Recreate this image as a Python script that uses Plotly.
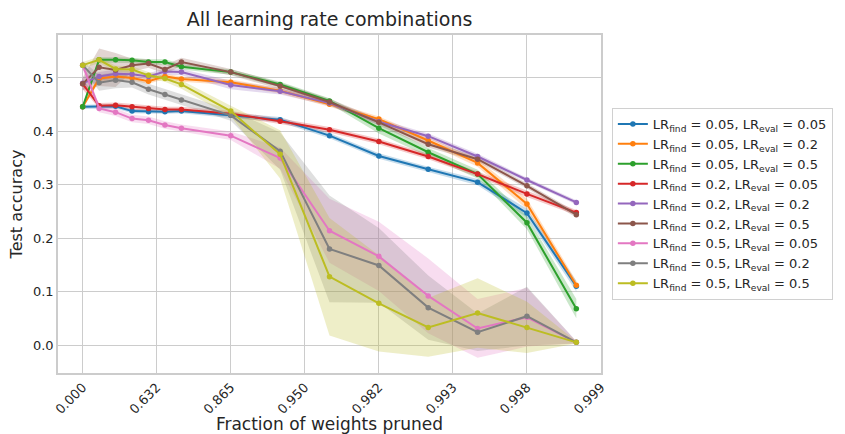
import plotly.graph_objects as go

# x positions in "pruning iterations" units (axis ticks at integer iterations)
x_pos = [0, 2/9, 4/9, 6/9, 8/9, 10/9, 12/9, 2, 8/3, 10/3, 4, 14/3, 16/3, 6, 20/3]
tick_pos = [0, 1, 2, 3, 4, 5, 6, 7]
tick_labels = ["0.000", "0.632", "0.865", "0.950", "0.982", "0.993", "0.998", "0.999"]

names = [
    "LR<sub>find</sub> = 0.05, LR<sub>eval</sub> = 0.05",
    "LR<sub>find</sub> = 0.05, LR<sub>eval</sub> = 0.2",
    "LR<sub>find</sub> = 0.05, LR<sub>eval</sub> = 0.5",
    "LR<sub>find</sub> = 0.2, LR<sub>eval</sub> = 0.05",
    "LR<sub>find</sub> = 0.2, LR<sub>eval</sub> = 0.2",
    "LR<sub>find</sub> = 0.2, LR<sub>eval</sub> = 0.5",
    "LR<sub>find</sub> = 0.5, LR<sub>eval</sub> = 0.05",
    "LR<sub>find</sub> = 0.5, LR<sub>eval</sub> = 0.2",
    "LR<sub>find</sub> = 0.5, LR<sub>eval</sub> = 0.5",
]
colors = ["#1f77b4", "#ff7f0e", "#2ca02c", "#d62728", "#9467bd",
          "#8c564b", "#e377c2", "#7f7f7f", "#bcbd22"]

mean_005_005 = [0.446, 0.447, 0.447, 0.438, 0.437, 0.437, 0.438, 0.430, 0.422, 0.392, 0.354, 0.329, 0.305, 0.247, 0.110]
mean_005_02 = [0.446, 0.499, 0.503, 0.500, 0.494, 0.503, 0.498, 0.492, 0.476, 0.451, 0.423, 0.383, 0.341, 0.264, 0.112]
mean_005_05 = [0.446, 0.534, 0.534, 0.533, 0.530, 0.530, 0.521, 0.511, 0.488, 0.457, 0.406, 0.361, 0.320, 0.229, 0.068]
mean_02_005 = [0.489, 0.448, 0.449, 0.446, 0.443, 0.441, 0.441, 0.433, 0.419, 0.403, 0.381, 0.353, 0.320, 0.283, 0.248]
mean_02_02 = [0.490, 0.503, 0.508, 0.507, 0.503, 0.512, 0.511, 0.487, 0.475, 0.453, 0.418, 0.391, 0.353, 0.309, 0.267]
mean_02_05 = [0.489, 0.520, 0.515, 0.524, 0.527, 0.516, 0.530, 0.511, 0.485, 0.455, 0.417, 0.376, 0.348, 0.298, 0.244]
mean_05_005 = [0.524, 0.443, 0.436, 0.424, 0.421, 0.412, 0.406, 0.392, 0.350, 0.214, 0.166, 0.092, 0.031, 0.052, 0.005]
mean_05_02 = [0.524, 0.491, 0.496, 0.492, 0.479, 0.469, 0.459, 0.430, 0.363, 0.180, 0.149, 0.070, 0.024, 0.054, 0.005]
mean_05_05 = [0.524, 0.534, 0.517, 0.516, 0.505, 0.499, 0.488, 0.438, 0.357, 0.128, 0.078, 0.033, 0.060, 0.033, 0.005]

std_005_005 = [0.004, 0.004, 0.004, 0.004, 0.004, 0.004, 0.004, 0.005, 0.005, 0.005, 0.005, 0.005, 0.006, 0.008, 0.010]
std_005_02 = [0.004, 0.006, 0.006, 0.005, 0.005, 0.005, 0.005, 0.005, 0.005, 0.005, 0.005, 0.006, 0.007, 0.010, 0.008]
std_005_05 = [0.004, 0.005, 0.005, 0.005, 0.005, 0.005, 0.005, 0.005, 0.005, 0.005, 0.010, 0.008, 0.008, 0.012, 0.018]
std_02_005 = [0.010, 0.005, 0.005, 0.005, 0.005, 0.005, 0.005, 0.005, 0.005, 0.005, 0.005, 0.005, 0.005, 0.006, 0.005]
std_02_02 = [0.012, 0.008, 0.008, 0.006, 0.006, 0.006, 0.006, 0.008, 0.006, 0.005, 0.005, 0.005, 0.005, 0.004, 0.004]
std_02_05 = [0.012, 0.035, 0.032, 0.012, 0.008, 0.008, 0.008, 0.006, 0.006, 0.006, 0.006, 0.006, 0.005, 0.005, 0.005]
std_05_005 = [0.008, 0.007, 0.007, 0.007, 0.007, 0.007, 0.007, 0.008, 0.020, 0.060, 0.065, 0.070, 0.055, 0.055, 0.002]
std_05_02 = [0.008, 0.015, 0.015, 0.010, 0.010, 0.010, 0.010, 0.010, 0.035, 0.100, 0.070, 0.060, 0.035, 0.055, 0.002]
std_05_05 = [0.006, 0.006, 0.006, 0.006, 0.006, 0.006, 0.008, 0.010, 0.045, 0.110, 0.090, 0.055, 0.065, 0.048, 0.002]

means = [mean_005_005, mean_005_02, mean_005_05, mean_02_005, mean_02_02,
         mean_02_05, mean_05_005, mean_05_02, mean_05_05]
stds = [std_005_005, std_005_02, std_005_05, std_02_005, std_02_02,
        std_02_05, std_05_005, std_05_02, std_05_05]


def rgba(hex_color, a):
    h = hex_color.lstrip("#")
    r, g, b = int(h[0:2], 16), int(h[2:4], 16), int(h[4:6], 16)
    return f"rgba({r},{g},{b},{a})"


fig = go.Figure()

for m, s, c in zip(means, stds, colors):
    upper = [a + b for a, b in zip(m, s)]
    lower = [a - b for a, b in zip(m, s)]
    fig.add_trace(go.Scatter(
        x=x_pos + x_pos[::-1], y=upper + lower[::-1],
        fill="toself", fillcolor=rgba(c, 0.25), line=dict(width=0),
        mode="lines", hoverinfo="skip", showlegend=False))

for m, c, n in zip(means, colors, names):
    fig.add_trace(go.Scatter(
        x=x_pos, y=m, name=n, mode="lines+markers",
        line=dict(color=c, width=2), marker=dict(color=c, size=5.5)))

font_family = "DejaVu Sans"
text_color = "#262626"

fig.update_layout(
    width=845, height=434,
    margin=dict(l=58, r=244, t=35, b=61),
    paper_bgcolor="white", plot_bgcolor="white",
    font=dict(family=font_family, color=text_color, size=13),
    title=dict(text="All learning rate combinations", x=(58 + 601) / 2 / 845,
               xanchor="center", y=1 - 19 / 434, yanchor="middle",
               font=dict(size=19, color=text_color)),
    legend=dict(x=1.02, y=0.5, xanchor="left", yanchor="middle",
                bgcolor="white", bordercolor="#d0d0d0", borderwidth=1,
                font=dict(size=13, color=text_color), tracegroupgap=0),
    showlegend=True,
)

fig.update_xaxes(
    range=[-1/3, 7], tickvals=tick_pos, ticktext=tick_labels, tickangle=-45,
    showgrid=True, gridcolor="#cccccc", gridwidth=1, zeroline=False,
    showline=True, linecolor="#cccccc", linewidth=1.5, mirror=True,
    ticks="", tickfont=dict(size=13, color=text_color),
    title=dict(text="Fraction of weights pruned", font=dict(size=17, color=text_color), standoff=4),
    automargin=False,
)
fig.update_yaxes(
    range=[-0.0524, 0.5805], tickvals=[0, 0.1, 0.2, 0.3, 0.4, 0.5],
    ticktext=["0.0", "0.1", "0.2", "0.3", "0.4", "0.5"],
    showgrid=True, gridcolor="#cccccc", gridwidth=1, zeroline=False,
    showline=True, linecolor="#cccccc", linewidth=1.5, mirror=True,
    ticks="", tickfont=dict(size=13, color=text_color),
    title=dict(text="Test accuracy", font=dict(size=16, color=text_color), standoff=6),
    automargin=False,
)

fig.write_html("out.html")
